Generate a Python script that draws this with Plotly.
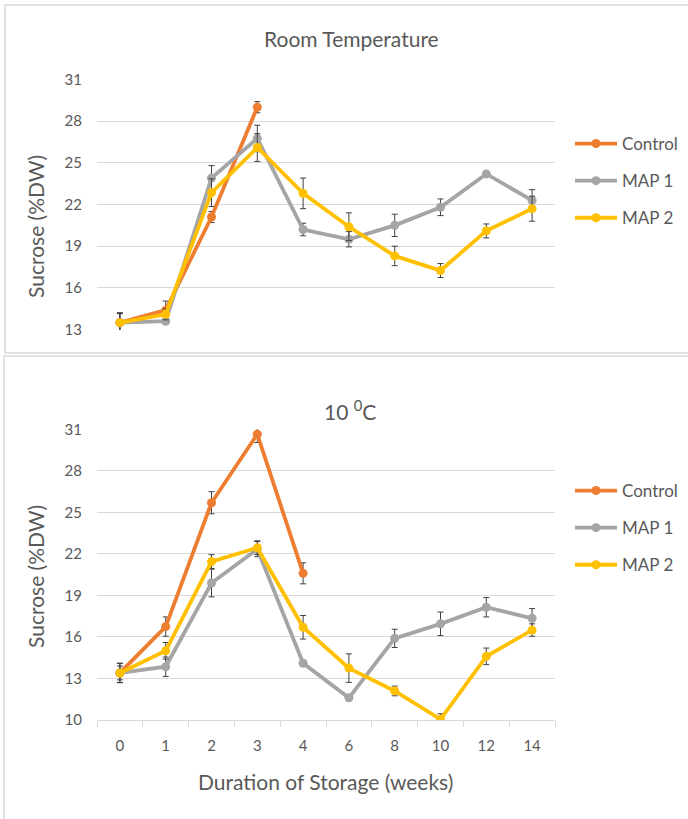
import plotly.graph_objects as go

weeks = ["0", "1", "2", "3", "4", "6", "8", "10", "12", "14"]
y_ticks = [13, 16, 19, 22, 25, 28, 31]
y_ticks_bottom = [10, 13, 16, 19, 22, 25, 28, 31]

# Room temperature
rt_control = [13.5, 14.4, 21.1, 29.0, None, None, None, None, None, None]
rt_control_err = [0.65, 0.65, 0.4, 0.4, 0, 0, 0, 0, 0, 0]
rt_map1 = [13.5, 13.6, 23.9, 26.75, 20.2, 19.5, 20.5, 21.8, 24.2, 22.3]
rt_map1_err = [0.7, 0.2, 0.9, 0.95, 0.45, 0.55, 0.8, 0.6, 0.1, 0.77]
rt_map2 = [13.5, 14.1, 22.85, 26.1, 22.8, 20.4, 18.3, 17.25, 20.1, 21.7]
rt_map2_err = [0.7, 0.4, 1.0, 1.0, 1.1, 1.0, 0.7, 0.5, 0.5, 0.9]

# 10 degC
c10_control = [13.4, 16.75, 25.7, 30.65, 20.6, None, None, None, None, None]
c10_control_err = [0.7, 0.7, 0.8, 0.6, 0.76, 0, 0, 0, 0, 0]
c10_map1 = [13.4, 13.85, 19.9, 22.35, 14.1, 11.6, 15.9, 16.95, 18.15, 17.35]
c10_map1_err = [0.7, 0.7, 1.0, 0.55, 0.2, 0.2, 0.66, 0.85, 0.7, 0.7]
c10_map2 = [13.4, 15.0, 21.45, 22.45, 16.7, 13.75, 12.1, 10.05, 14.6, 16.5]
c10_map2_err = [0.5, 0.6, 0.5, 0.5, 0.85, 1.03, 0.35, 0.4, 0.6, 0.45]

names = ["Control", "MAP 1", "MAP 2"]
colors = ["#ED7D31", "#A5A5A5", "#FFC000"]

W, H = 688, 819
FONT = "Lato"
TXT = "#595959"
GRID = "#D9D9D9"


def px_x(p):
    return p / W


def px_y(p):
    return 1 - p / H


fig = go.Figure()

panels = [
    ("x", "y", "legend", [rt_control, rt_map1, rt_map2], [rt_control_err, rt_map1_err, rt_map2_err]),
    ("x2", "y2", "legend2", [c10_control, c10_map1, c10_map2], [c10_control_err, c10_map1_err, c10_map2_err]),
]

for xa, ya, lg, series, errs in panels:
    for i, (vals, err) in enumerate(zip(series, errs)):
        fig.add_trace(go.Scatter(
            x=weeks, y=vals, name=names[i], mode="lines+markers",
            xaxis=xa, yaxis=ya, legend=lg, legendgroup=lg + names[i],
            line=dict(color=colors[i], width=3.8),
            marker=dict(color=colors[i], size=9, symbol="circle"),
            error_y=dict(type="data", array=err, visible=True, color="#404040",
                         thickness=1, width=3),
            connectgaps=False,
        ))

xdom = [px_x(97), px_x(555)]
common_x = dict(type="category", categoryorder="array", categoryarray=weeks,
                range=[-0.5, 9.5], domain=xdom, showgrid=False, zeroline=False,
                automargin=False)

fig.update_layout(
    width=W, height=H,
    margin=dict(l=0, r=0, t=0, b=0, pad=0, autoexpand=False),
    paper_bgcolor="white", plot_bgcolor="white",
    font=dict(family=FONT, color=TXT, size=15),
    xaxis=dict(**common_x, anchor="y", showticklabels=False, showline=False, ticks=""),
    yaxis=dict(domain=[px_y(330), px_y(79)], range=[12.97, 31.03], tickvals=y_ticks,
               showgrid=True, gridcolor=GRID, gridwidth=1, zeroline=False,
               showline=False, ticks="", ticklabelstandoff=14, automargin=False,
               tickfont=dict(size=15, color=TXT), anchor="x"),
    xaxis2=dict(**common_x, anchor="y2", showline=True, linecolor=GRID, linewidth=1,
                ticks="outside", tickson="boundaries", ticklen=6, tickcolor=GRID,
                ticklabelstandoff=12, tickfont=dict(size=15, color=TXT)),
    yaxis2=dict(domain=[px_y(720), px_y(429)], range=[10, 31.03], tickvals=y_ticks_bottom,
                showgrid=True, gridcolor=GRID, gridwidth=1, zeroline=False,
                showline=False, ticks="", ticklabelstandoff=14, automargin=False,
                tickfont=dict(size=15, color=TXT), anchor="x2"),
    legend=dict(x=px_x(570), y=px_y(126), xanchor="left", yanchor="top", itemwidth=42,
                font=dict(size=17, color=TXT), tracegroupgap=12, bgcolor="rgba(0,0,0,0)"),
    legend2=dict(x=px_x(570), y=px_y(473), xanchor="left", yanchor="top", itemwidth=42,
                 font=dict(size=17, color=TXT), tracegroupgap=12, bgcolor="rgba(0,0,0,0)"),
    showlegend=True,
)

annotations = [
    dict(text="Room Temperature", x=px_x(351), y=px_y(38), font=dict(size=21, color=TXT)),
    dict(text="10 <sup>0</sup>C", x=px_x(350), y=px_y(410), font=dict(size=21, color=TXT)),
    dict(text="Sucrose (%DW)", x=px_x(35), y=px_y(227), textangle=-90, font=dict(size=21, color=TXT)),
    dict(text="Sucrose (%DW)", x=px_x(35), y=px_y(577), textangle=-90, font=dict(size=21, color=TXT)),
    dict(text="Duration of Storage (weeks)", x=px_x(325), y=px_y(781), font=dict(size=21, color=TXT)),
]
for a in annotations:
    fig.add_annotation(xref="paper", yref="paper", showarrow=False,
                       xanchor="center", yanchor="middle", **a)

# chart frames
fig.add_shape(type="rect", xref="paper", yref="paper",
              x0=px_x(5), x1=px_x(700), y0=px_y(353), y1=px_y(5),
              line=dict(color="#D9D9D9", width=1.5), layer="below")
fig.add_shape(type="rect", xref="paper", yref="paper",
              x0=px_x(4), x1=px_x(700), y0=px_y(830), y1=px_y(356),
              line=dict(color="#D9D9D9", width=1.5), layer="below")

fig.write_html(
    "out.html",
    config={"displayModeBar": False},
    post_script="document.body.style.margin='0';document.body.style.padding='0';"
                "document.documentElement.style.overflow='hidden';",
)
